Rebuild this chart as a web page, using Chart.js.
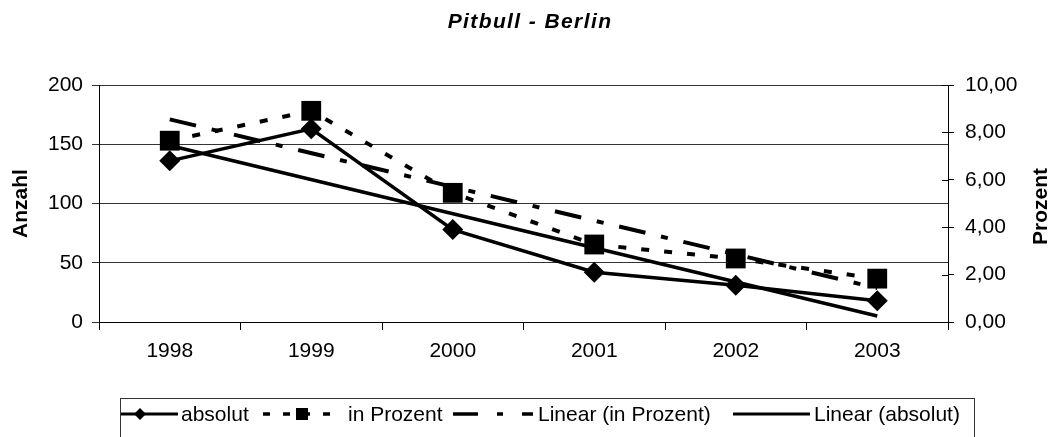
<!DOCTYPE html>
<html>
<head>
<meta charset="utf-8">
<script src="https://cdn.jsdelivr.net/npm/chart.js@4/dist/chart.umd.min.js"></script>
<style>
  html, body { margin: 0; padding: 0; background: #fff; }
  #wrap { width: 1051px; height: 437px; }
</style>
</head>
<body>
<div id="wrap"><canvas id="chart" width="1051" height="437"></canvas></div>
<script>
// --- data ---
const CHART_TITLE = 'Pitbull - Berlin';
const years = ['1998', '1999', '2000', '2001', '2002', '2003'];
const absolut = [136, 163, 78, 42, 31, 18];
const inProzent = [7.65, 8.91, 5.45, 3.27, 2.68, 1.83];
// trend lines: only the two end points are given, the line spans the gap
const linearProzent = [8.55, null, null, null, null, 1.43];
const linearAbsolut = [149, null, null, null, null, 5];
const leftTicks = [0, 50, 100, 150, 200];
const rightTicks = [0, 2, 4, 6, 8, 10];
const legendLabels = ['absolut', 'in Prozent', 'Linear (in Prozent)', 'Linear (absolut)'];

const FONT = '"Liberation Sans", Arial, sans-serif';
const BLACK = '#000';

// Excel-like title with a bit of letter spacing
const titlePlugin = {
  id: 'excelTitle',
  afterDraw(chart) {
    const ctx = chart.ctx;
    ctx.save();
    ctx.font = `italic bold 21px ${FONT}`;
    ctx.letterSpacing = '1.4px';
    ctx.fillStyle = BLACK;
    ctx.textAlign = 'center';
    ctx.textBaseline = 'alphabetic';
    ctx.fillText(CHART_TITLE, 530, 28);
    ctx.restore();
  }
};

// right axis: ticks crossing the axis line and a title reading upwards
const rightAxisPlugin = {
  id: 'rightAxisExtras',
  afterDraw(chart) {
    const ctx = chart.ctx;
    const area = chart.chartArea;
    const y2 = chart.scales.y2;
    ctx.save();
    ctx.strokeStyle = BLACK;
    ctx.lineWidth = 1;
    y2.ticks.forEach(t => {
      const py = Math.round(y2.getPixelForValue(t.value)) + 0.5;
      ctx.beginPath();
      ctx.moveTo(area.right - 6, py);
      ctx.lineTo(area.right, py);
      ctx.stroke();
    });
    ctx.translate(1041, (area.top + area.bottom) / 2 + 3);
    ctx.rotate(-Math.PI / 2);
    ctx.font = `bold 21px ${FONT}`;
    ctx.fillStyle = BLACK;
    ctx.textAlign = 'center';
    ctx.textBaseline = 'middle';
    ctx.fillText('Prozent', 0, 0);
    ctx.restore();
  }
};

// legend box at the bottom, line swatches with markers
const legendPlugin = {
  id: 'excelLegend',
  afterDraw(chart) {
    const ctx = chart.ctx;
    const box = { left: 120.5, top: 398.5, right: 974.5, bottom: 445 };
    const midY = 414;
    const items = [
      { from: 100, to: 178, text: 181, marker: 'diamond', at: 140, dash: [], width: 3 },
      { from: 263, to: 342, text: 348, marker: 'square', at: 302, dash: [7, 13], width: 3.5 },
      { from: 453, to: 533, text: 538, marker: null, dash: [25, 19, 6, 19], width: 3.5 },
      { from: 733, to: 810, text: 814, marker: null, dash: [], width: 3 }
    ];
    ctx.save();
    ctx.fillStyle = '#fff';
    ctx.fillRect(box.left, box.top, box.right - box.left, box.bottom - box.top);
    ctx.strokeStyle = '#333';
    ctx.lineWidth = 1;
    ctx.strokeRect(box.left, box.top, box.right - box.left, box.bottom - box.top);

    ctx.beginPath();
    ctx.rect(box.left + 0.5, box.top + 0.5, box.right - box.left - 1, box.bottom - box.top - 1);
    ctx.clip();

    items.forEach((it, i) => {
      ctx.strokeStyle = BLACK;
      ctx.fillStyle = BLACK;
      ctx.lineWidth = it.width;
      ctx.lineCap = 'butt';
      ctx.setLineDash(it.dash);
      ctx.beginPath();
      ctx.moveTo(it.from, midY);
      ctx.lineTo(it.to, midY);
      ctx.stroke();
      ctx.setLineDash([]);
      if (it.marker === 'diamond') {
        ctx.beginPath();
        ctx.moveTo(it.at, midY - 6);
        ctx.lineTo(it.at + 6, midY);
        ctx.lineTo(it.at, midY + 6);
        ctx.lineTo(it.at - 6, midY);
        ctx.closePath();
        ctx.fill();
      } else if (it.marker === 'square') {
        ctx.fillRect(it.at - 6, midY - 6, 12, 12);
      }
      ctx.font = `21px ${FONT}`;
      ctx.textAlign = 'left';
      ctx.textBaseline = 'middle';
      ctx.fillText(legendLabels[i], it.text, midY + 1);
    });
    ctx.restore();
  }
};

const ctx = document.getElementById('chart').getContext('2d');

new Chart(ctx, {
  type: 'line',
  data: {
    labels: years,
    datasets: [{
      label: legendLabels[0],
      data: absolut,
      yAxisID: 'y',
      borderColor: BLACK,
      borderWidth: 3.5,
      pointStyle: 'rectRot',
      pointRadius: 10.5,
      pointBackgroundColor: BLACK,
      pointBorderWidth: 0,
      tension: 0
    }, {
      label: legendLabels[1],
      data: inProzent,
      yAxisID: 'y2',
      borderColor: BLACK,
      borderWidth: 4,
      borderDash: [8, 15],
      borderCapStyle: 'butt',
      pointStyle: 'rect',
      pointRadius: 14,
      pointBackgroundColor: BLACK,
      pointBorderWidth: 0,
      tension: 0
    }, {
      label: legendLabels[2],
      data: linearProzent,
      yAxisID: 'y2',
      borderColor: BLACK,
      borderWidth: 4,
      borderDash: [27, 16, 7, 16],
      borderCapStyle: 'butt',
      pointRadius: 0,
      spanGaps: true,
      tension: 0
    }, {
      label: legendLabels[3],
      data: linearAbsolut,
      yAxisID: 'y',
      borderColor: BLACK,
      borderWidth: 3.5,
      pointRadius: 0,
      spanGaps: true,
      tension: 0
    }]
  },
  options: {
    responsive: false,
    animation: false,
    devicePixelRatio: 1,
    layout: { padding: { top: 85, bottom: 70, left: 0, right: 0 } },
    plugins: {
      legend: { display: false },
      title: { display: false },
      tooltip: { enabled: false }
    },
    scales: {
      x: {
        offset: true,
        grid: {
          offset: true,
          drawOnChartArea: false,
          color: BLACK,
          tickLength: 8
        },
        border: { display: true, color: BLACK, width: 1 },
        ticks: {
          color: BLACK,
          font: { family: FONT, size: 21 },
          padding: 9,
          maxRotation: 0
        },
        afterFit: s => { s.height = 45; }
      },
      y: {
        position: 'left',
        min: 0,
        max: 200,
        afterBuildTicks: s => { s.ticks = leftTicks.map(v => ({ value: v })); },
        grid: { color: '#333', lineWidth: 1, tickLength: 7 },
        border: { display: true, color: BLACK, width: 1 },
        ticks: {
          color: BLACK,
          font: { family: FONT, size: 21 },
          padding: 9
        },
        title: {
          display: true,
          text: 'Anzahl',
          color: BLACK,
          font: { family: FONT, size: 21, weight: 'bold' },
          padding: { top: 9, bottom: 0 }
        },
        afterFit: s => { s.width = 99; }
      },
      y2: {
        position: 'right',
        min: 0,
        max: 10,
        afterBuildTicks: s => { s.ticks = rightTicks.map(v => ({ value: v })); },
        grid: { drawOnChartArea: false, color: BLACK, tickLength: 6 },
        border: { display: true, color: BLACK, width: 1 },
        ticks: {
          color: BLACK,
          font: { family: FONT, size: 21 },
          padding: 11,
          callback: v => v.toFixed(2).replace('.', ',')
        },
        afterFit: s => { s.width = 103; }
      }
    }
  },
  plugins: [titlePlugin, rightAxisPlugin, legendPlugin]
});
</script>
</body>
</html>
